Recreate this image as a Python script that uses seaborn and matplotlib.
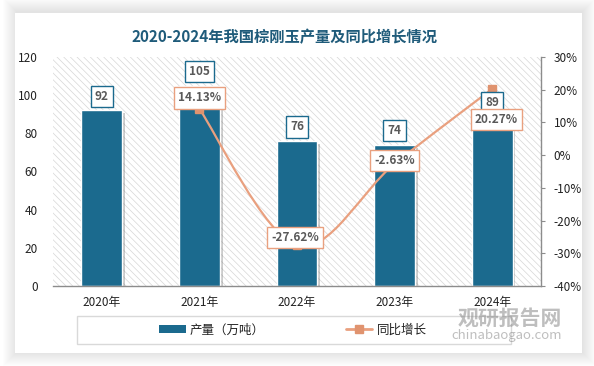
import numpy as np
import pandas as pd
import seaborn as sns
import matplotlib.pyplot as plt
import matplotlib.patheffects as pe
from matplotlib.patches import Rectangle, PathPatch
from matplotlib.path import Path
from matplotlib.lines import Line2D
from matplotlib.ticker import FuncFormatter

# Datos
years = ["2020年", "2021年", "2022年", "2023年", "2024年"]
output = [92, 105, 76, 74, 89]
growth_years = ["2021年", "2022年", "2023年", "2024年"]
growth = [14.13, -27.62, -2.63, 20.27]

bar_color = "#1B6A8E"
line_color = "#E9A07F"
marker_color = "#E0936F"
txt_color = "#595959"

sns.set_theme(style="white")
plt.rcParams["font.family"] = ["Noto Sans CJK SC", "DejaVu Sans"]
plt.rcParams["hatch.linewidth"] = 0.5
plt.rcParams["axes.unicode_minus"] = False

W, H = 594, 366
fig = plt.figure(figsize=(W / 100, H / 100), dpi=100, facecolor="white")

# Tarjeta blanca con sombra suave
for i in range(14, 0, -1):
    fig.patches.append(Rectangle(((15 - i + 2) / W, 1 - (353 + i - 1) / H), (567 + 2 * i - 2) / W,
                                 (340 + 2 * i) / H, transform=fig.transFigure,
                                 fc="black", ec="none", alpha=0.008, zorder=0))
fig.patches.append(Rectangle((15 / W, 1 - 353 / H), 567 / W, 340 / H, transform=fig.transFigure,
                             fc="white", ec="none", zorder=1))

ax = fig.add_axes([53 / W, 1 - 286 / H, 488 / W, 229 / H])
ax.set_zorder(2)
ax.patch.set_facecolor("white")
ax.patch.set_hatch("\\" * 5)
ax.patch.set_edgecolor("#d6d6d6")
ax.patch.set_linewidth(0)

df = pd.DataFrame({"year": years, "output": output})
sns.barplot(data=df, x="year", y="output", order=years, color=bar_color, width=0.42,
            edgecolor="white", linewidth=1, saturation=1, ax=ax)
for p in ax.patches:
    p.set_path_effects([pe.SimplePatchShadow(offset=(2, -2), shadow_rgbFace="#555555", alpha=0.3),
                        pe.Normal()])

ax.set_ylim(0, 120)
ax.set_xlim(-0.5, 4.5)
ax.set_yticks(range(0, 121, 20))
ax.set_xlabel("")
ax.set_ylabel("")
ax.tick_params(axis="y", length=0, pad=11, labelsize=8.5, labelcolor="#222222")
ax.tick_params(axis="x", length=0, pad=7, labelsize=8.5, labelcolor="#222222")
for s in ["left", "top", "right"]:
    ax.spines[s].set_visible(False)
ax.spines["bottom"].set_color("#8c8c8c")
ax.spines["bottom"].set_linewidth(1)

ax2 = ax.twinx()
ax2.set_ylim(-40, 30)
ax2.set_yticks(range(-40, 31, 10))
ax2.yaxis.set_major_formatter(FuncFormatter(lambda v, _: f"{v:.0f}%"))
ax2.tick_params(axis="y", direction="out", length=3, width=0.8, color="#8c8c8c", pad=6,
                labelsize=8.5, labelcolor="#222222")
for s in ["left", "top", "bottom"]:
    ax2.spines[s].set_visible(False)
ax2.spines["right"].set_color("#8c8c8c")
ax2.spines["right"].set_linewidth(1)

# Linea suavizada (Bezier tipo Excel) entre los puntos de crecimiento
gx = np.array([years.index(y) for y in growth_years], dtype=float)
gy = np.array(growth, dtype=float)
pts = np.column_stack([gx, gy])
verts = [pts[0]]
codes = [Path.MOVETO]
for i in range(len(pts) - 1):
    p0 = pts[i - 1] if i > 0 else pts[i]
    p1, p2 = pts[i], pts[i + 1]
    p3 = pts[i + 2] if i + 2 < len(pts) else pts[i + 1]
    verts += [p1 + (p2 - p0) / 6, p2 - (p3 - p1) / 6, p2]
    codes += [Path.CURVE4] * 3
ax2.add_patch(PathPatch(Path(verts, codes), fc="none", ec=line_color, lw=1.6, zorder=3))
ax2.plot(gx, gy, ls="none", marker="s", ms=6, color=marker_color, zorder=4)

# Etiquetas de barras
for i, v in enumerate(output):
    ax2.annotate(f"{v}", xy=(i, v), xycoords=ax.transData, xytext=(0, 14),
                 textcoords="offset pixels", ha="center", va="center", fontsize=8.5,
                 fontweight="bold", color=txt_color, zorder=6,
                 bbox=dict(boxstyle="square,pad=0.35", fc="white", ec=bar_color, lw=1))

# Etiquetas de porcentaje
pct_offsets = [(0, 11), (-2, 8), (0, 3), (4, -31)]
for x, v, off in zip(gx, gy, pct_offsets):
    ax2.annotate(f"{v:.2f}%", xy=(x, v), xytext=off, textcoords="offset pixels",
                 ha="center", va="center", fontsize=8.5, fontweight="bold", color=txt_color,
                 zorder=7, bbox=dict(boxstyle="square,pad=0.35", fc="white", ec=line_color, lw=1))

# Titulo
fig.text(285 / W, 1 - 37 / H, "2020-2024年我国棕刚玉产量及同比增长情况", ha="center", va="center",
         fontsize=11, fontweight="bold", color="#1F5B7A", zorder=5)

# Marca de agua
fig.text(510 / W, 1 - 318 / H, "观研报告网", ha="center", va="center", fontsize=15,
         fontweight="bold", color="#8a8a8a", alpha=0.55, zorder=9)
fig.text(507 / W, 1 - 336 / H, "chinabaogao.com", ha="center", va="center", fontsize=9.5,
         color="#8a8a8a", alpha=0.55, zorder=9)

# Leyenda
fig.patches.append(Rectangle((77 / W, 1 - 344 / H), 434 / W, 28 / H, transform=fig.transFigure,
                             fc="none", ec="#d9d9d9", lw=1, zorder=3))
handles = [Rectangle((0, 0), 1, 1, fc=bar_color, ec="none"),
           Line2D([0], [0], color=line_color, lw=2, marker="s", ms=6, mfc=marker_color, mec=marker_color)]
fig.legend(handles, ["产量（万吨）", "同比增长"], loc="center", bbox_to_anchor=(293 / W, 1 - 330 / H),
           ncol=2, frameon=False, fontsize=9, handlelength=2.1, handleheight=0.6,
           handletextpad=0.35, columnspacing=6.5, labelcolor="#222222")

fig.savefig("out.png", dpi=100, facecolor="white")
